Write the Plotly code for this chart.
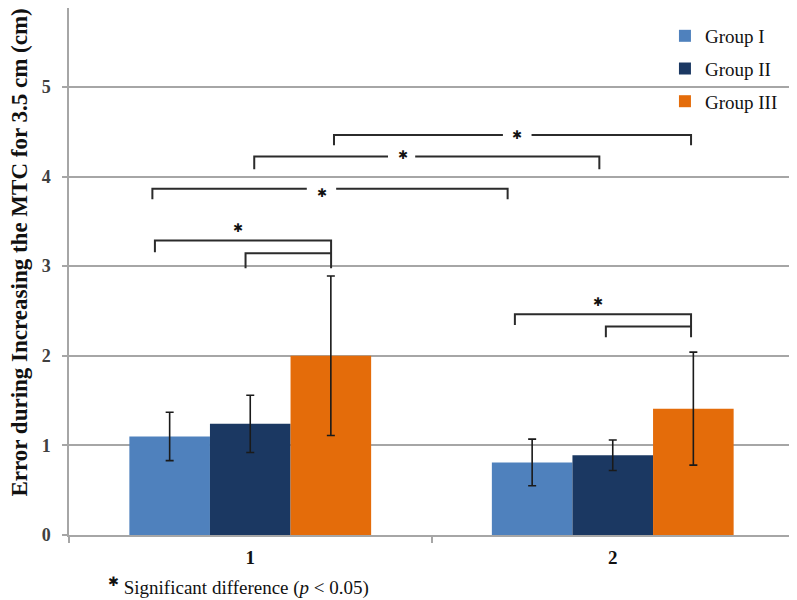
import plotly.graph_objects as go

categories = ["1", "2"]
groups = ["Group I", "Group II", "Group III"]
means_g1 = [1.10, 0.81]
means_g2 = [1.24, 0.89]
means_g3 = [2.00, 1.41]
sd_g1 = [0.27, 0.26]
sd_g2 = [0.32, 0.17]
sd_g3 = [0.89, 0.63]
colors = ["#4f81bd", "#1b3862", "#e46c0a"]

# significance brackets in axis units
bracket_x0 = [-0.263, -0.013, -0.270, 0.011, 0.231, 0.730, 0.981]
bracket_x1 = [0.223, 0.223, 0.710, 0.963, 1.216, 1.216, 1.216]
bracket_y = [3.285, 3.144, 3.862, 4.222, 4.464, 2.463, 2.325]
bracket_fl = [3.155, 2.977, 3.747, 4.080, 4.350, 2.344, 2.206]
bracket_fr = [2.977, 3.144, 3.747, 4.080, 4.350, 2.206, 2.325]
gap_x0 = [None, None, 0.156, 0.380, 0.697, None, None]
gap_x1 = [None, None, 0.237, 0.455, 0.776, None, None]
star_x = [-0.033, 0.197, 0.421, 0.737, 0.960]
star_y = [3.423, 3.820, 4.241, 4.464, 2.604]

y_title = "Error during Increasing the MTC for 3.5 cm (cm)"
footnote = "<sup>✱</sup> Significant difference (<i>p</i> &lt; 0.05)"

SERIF = "Liberation Serif, Times New Roman, serif"
GRID = "#a6a6a6"

fig = go.Figure()
for name, vals, sds, col in zip(groups, [means_g1, means_g2, means_g3],
                                [sd_g1, sd_g2, sd_g3], colors):
    fig.add_trace(go.Bar(
        x=categories, y=vals, name=name, marker=dict(color=col, line=dict(width=0)),
        legendgroup=name,
        error_y=dict(type="data", array=sds, visible=True, color="#1a1a1a",
                     thickness=1.6, width=4),
    ))

shapes = []
for i in range(len(bracket_x0)):
    x0, x1, y, fl, fr = bracket_x0[i], bracket_x1[i], bracket_y[i], bracket_fl[i], bracket_fr[i]
    line = dict(color="#2b2b2b", width=2)
    if gap_x0[i] is None:
        path = f"M {x0} {fl} L {x0} {y} L {x1} {y} L {x1} {fr}"
        shapes.append(dict(type="path", xref="x", yref="y", path=path, line=line))
    else:
        p1 = f"M {x0} {fl} L {x0} {y} L {gap_x0[i]} {y}"
        p2 = f"M {gap_x1[i]} {y} L {x1} {y} L {x1} {fr}"
        shapes.append(dict(type="path", xref="x", yref="y", path=p1, line=line))
        shapes.append(dict(type="path", xref="x", yref="y", path=p2, line=line))

annotations = []
for sx, sy in zip(star_x, star_y):
    annotations.append(dict(x=sx, y=sy, xref="x", yref="y", text="✱", showarrow=False,
                            font=dict(family="DejaVu Sans", size=12, color="#111111"),
                            xanchor="center", yanchor="middle"))
annotations.append(dict(x=0.051, y=-0.098, xref="paper", yref="paper", xanchor="left",
                        yanchor="middle", showarrow=False, text=footnote,
                        font=dict(family=SERIF, size=19, color="#111111")))
annotations.append(dict(x=-0.0676, y=0.536, xref="paper", yref="paper", xanchor="center",
                        yanchor="middle", showarrow=False, textangle=-90, text=f"<b>{y_title}</b>",
                        font=dict(family=SERIF, size=23, color="#111111")))

fig.update_layout(
    width=789, height=592,
    margin=dict(l=61, r=3, t=0, b=65),
    paper_bgcolor="white", plot_bgcolor="white",
    barmode="group", bargap=0.333, bargroupgap=0,
    showlegend=True,
    legend=dict(x=0.822, y=0.983, xanchor="left", yanchor="top",
                font=dict(family=SERIF, size=19, color="#111111"),
                bgcolor="rgba(0,0,0,0)", tracegroupgap=5),
    shapes=shapes, annotations=annotations,
    font=dict(family=SERIF),
)
fig.update_xaxes(
    type="category", tickson="boundaries", ticks="outside", ticklen=6,
    tickcolor=GRID, tickwidth=1.5, showline=True, linecolor=GRID, linewidth=1.5,
    showgrid=False, ticklabelstandoff=4,
    tickfont=dict(family=SERIF, size=19, color="#111111", weight="bold"),
)
fig.update_yaxes(
    range=[0, 5.88], dtick=1, tick0=0, ticks="outside", ticklen=5, tickcolor=GRID,
    tickwidth=1.5, showline=True, linecolor=GRID, linewidth=1.5,
    showgrid=True, gridcolor=GRID, gridwidth=1.5, zeroline=False,
    ticklabelstandoff=8,
    tickfont=dict(family=SERIF, size=18, color="#404040", weight="bold"),
)

fig.write_html("out.html")
